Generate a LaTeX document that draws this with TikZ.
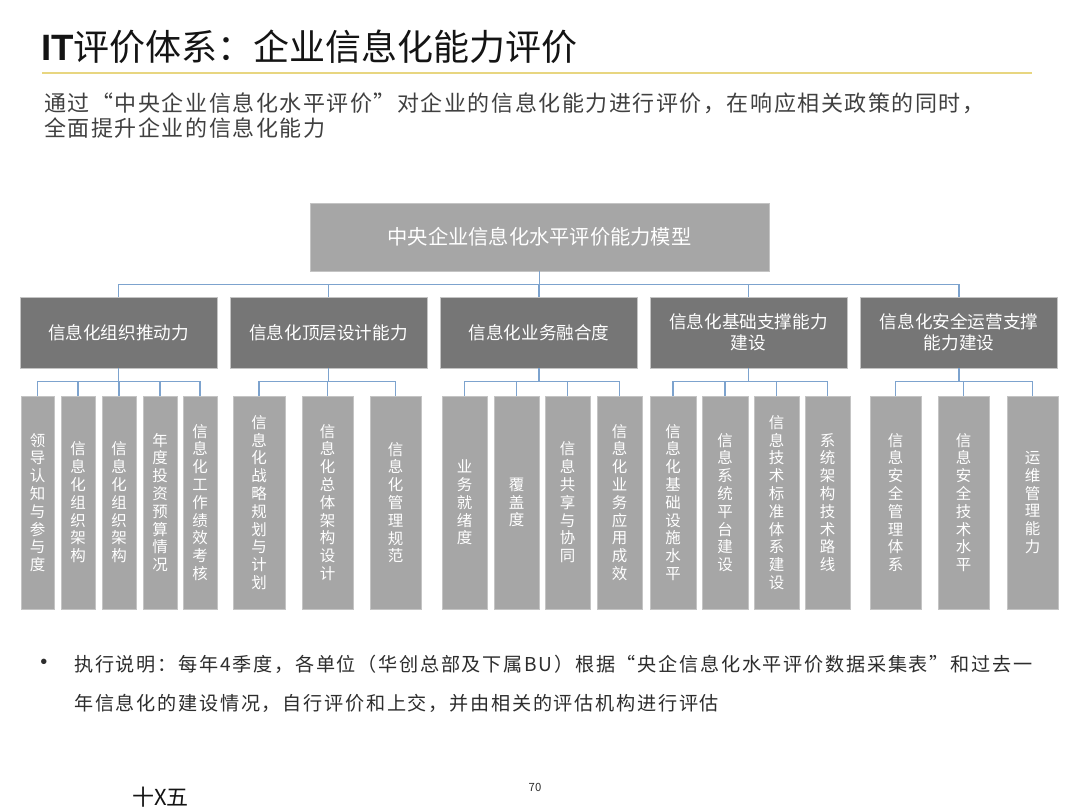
\documentclass[tikz,border=0pt]{standalone}
\usepackage{fontspec}
\setmainfont{Noto Sans CJK SC}
\newfontfamily\cjk{Noto Sans CJK SC}
\newfontfamily\cjksub[LetterSpace=7]{Noto Sans CJK SC}
\newfontfamily\cjkbody[LetterSpace=9]{Noto Sans CJK SC}
\newfontfamily\latb{Liberation Sans}
\definecolor{linkblue}{RGB}{125,163,206}
\definecolor{boxlight}{RGB}{166,166,166}
\definecolor{boxdark}{RGB}{118,118,118}
\definecolor{boxedge}{RGB}{196,196,196}
\definecolor{yel}{RGB}{232,214,128}
\definecolor{titlecol}{RGB}{20,20,20}
\definecolor{subcol}{RGB}{64,64,64}
\definecolor{bodycol}{RGB}{45,45,45}
\tikzset{
  topbox/.style={fill=boxlight, draw=boxedge, line width=0.5pt, minimum width=344.25pt,
    minimum height=51pt, inner sep=0pt, text=white, font=\cjk\fontsize{15.2}{18}\selectfont},
  midbox/.style={fill=boxdark, draw=boxedge, line width=0.5pt, minimum width=147.75pt,
    minimum height=53.25pt, inner sep=0pt, text=white, align=center,
    font=\cjk\fontsize{13.2}{15.75}\selectfont},
  leafbox/.style={fill=boxlight, draw=boxedge, line width=0.5pt, minimum height=159.75pt,
    inner sep=0pt, text=white, align=center, font=\cjk\fontsize{11.6}{13.35}\selectfont},
  conn/.style={draw=linkblue, line width=1pt},
  plain/.style={inner sep=0pt, anchor=west}
}
\newcommand\Leaf[4]{\node[leafbox, minimum width={(#3-#2)*0.75pt}] (#1) at ({(#2+#3)/2},502.5) {#4};}
\begin{document}
\begin{tikzpicture}[x=0.75pt,y=-0.75pt]
\useasboundingbox (0,0) rectangle (1080,810);
\clip (0,0) rectangle (1080,810);
\fill[white] (0,0) rectangle (1080,810);

% title
\node[plain, text=titlecol] (title) at (41,47)
  {\latb\fontsize{27.5}{32}\selectfont\bfseries IT\cjk\mdseries\fontsize{27}{32}\selectfont 评价体系：企业信息化能力评价};
\draw[yel, line width=1pt] (42,73) -- (1032,73);

% subtitle
\node[plain, text=subcol, font=\cjksub\fontsize{16.5}{19}\selectfont] (sub1) at (44,103)
  {通过“中央企业信息化水平评价”对企业的信息化能力进行评价，在响应相关政策的同时，};
\node[plain, text=subcol, font=\cjksub\fontsize{16.5}{19}\selectfont] (sub2) at (44,128)
  {全面提升企业的信息化能力};

% top box
\node[topbox] (top) at (539.5,237) {中央企业信息化水平评价能力模型};

% level 2
\node[midbox] (m1) at (118.5,332.5) {信息化组织推动力};
\node[midbox] (m2) at (328.5,332.5) {信息化顶层设计能力};
\node[midbox] (m3) at (539,332.5) {信息化业务融合度};
\node[midbox] (m4) at (748.5,332.5) {信息化基础支撑能力\\建设};
\node[midbox] (m5) at (959,332.5) {信息化安全运营支撑\\能力建设};

% level 3
\Leaf{a1}{21}{54}{领\\导\\认\\知\\与\\参\\与\\度}
\Leaf{a2}{61}{95}{信\\息\\化\\组\\织\\架\\构}
\Leaf{a3}{102}{136}{信\\息\\化\\组\\织\\架\\构}
\Leaf{a4}{143}{177}{年\\度\\投\\资\\预\\算\\情\\况}
\Leaf{a5}{183}{217}{信\\息\\化\\工\\作\\绩\\效\\考\\核}

\Leaf{b1}{233}{285}{信\\息\\化\\战\\略\\规\\划\\与\\计\\划}
\Leaf{b2}{302}{353}{信\\息\\化\\总\\体\\架\\构\\设\\计}
\Leaf{b3}{370}{421}{信\\息\\化\\管\\理\\规\\范}

\Leaf{c1}{442}{487}{业\\务\\就\\绪\\度}
\Leaf{c2}{494}{539}{覆\\盖\\度}
\Leaf{c3}{545}{590}{信\\息\\共\\享\\与\\协\\同}
\Leaf{c4}{597}{642}{信\\息\\化\\业\\务\\应\\用\\成\\效}

\Leaf{d1}{650}{696}{信\\息\\化\\基\\础\\设\\施\\水\\平}
\Leaf{d2}{702}{748}{信\\息\\系\\统\\平\\台\\建\\设}
\Leaf{d3}{754}{799}{信\\息\\技\\术\\标\\准\\体\\系\\建\\设}
\Leaf{d4}{805}{850}{系\\统\\架\\构\\技\\术\\路\\线}

\Leaf{e1}{870}{921}{信\\息\\安\\全\\管\\理\\体\\系}
\Leaf{e2}{938}{989}{信\\息\\安\\全\\技\\术\\水\\平}
\Leaf{e3}{1007}{1058}{运\\维\\管\\理\\能\\力}

% connectors
\foreach \n in {m1,m2,m3,m4,m5} \draw[conn] (top.south) -- ++(0,13) -| (\n.north);
\foreach \n in {a1,a2,a3,a4,a5} \draw[conn] (m1.south) -- ++(0,13) -| (\n.north);
\foreach \n in {b1,b2,b3} \draw[conn] (m2.south) -- ++(0,13) -| (\n.north);
\foreach \n in {c1,c2,c3,c4} \draw[conn] (m3.south) -- ++(0,13) -| (\n.north);
\foreach \n in {d1,d2,d3,d4} \draw[conn] (m4.south) -- ++(0,13) -| (\n.north);
\foreach \n in {e1,e2,e3} \draw[conn] (m5.south) -- ++(0,13) -| (\n.north);

% bottom text
\node[plain, text=bodycol, font=\latb\fontsize{15}{17}\selectfont] (bul) at (40,664) {•};
\node[plain, text=bodycol, font=\cjkbody\fontsize{14.35}{17}\selectfont] (body1) at (74,664)
  {执行说明：每年4季度，各单位（华创总部及下属BU）根据“央企信息化水平评价数据采集表”和过去一};
\node[plain, text=bodycol, font=\cjkbody\fontsize{14.35}{17}\selectfont] (body2) at (74,703)
  {年信息化的建设情况，自行评价和上交，并由相关的评估机构进行评估};

\node[inner sep=0pt, text=bodycol, font=\cjk\fontsize{8.5}{10}\selectfont] (pg) at (535,787) {70};
\node[plain, text=titlecol, font=\cjk\fontsize{16.5}{19}\selectfont] (foot) at (132,797) {十X五};
\end{tikzpicture}
\end{document}
